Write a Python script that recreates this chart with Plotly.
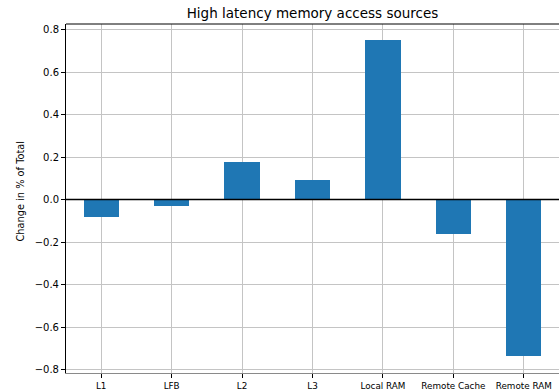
import plotly.graph_objects as go

# Change in share of high-latency memory accesses, by source
sources = ["L1", "LFB", "L2", "L3", "Local RAM", "Remote Cache", "Remote RAM"]
change_pct = [-0.081, -0.029, 0.176, 0.092, 0.750, -0.162, -0.735]
y_ticks = [-0.8, -0.6, -0.4, -0.2, 0.0, 0.2, 0.4, 0.6, 0.8]

FONT = "DejaVu Sans"
GRID = "#c4c4c4"

fig = go.Figure()
fig.add_trace(go.Bar(
    x=list(range(len(sources))),
    y=change_pct,
    width=0.5,
    marker=dict(color="#1f77b4", line=dict(width=0)),
))

# horizontal reference line at zero
fig.add_hline(y=0, line=dict(color="black", width=1.5))

# top frame line
fig.add_shape(type="line", xref="paper", yref="paper",
              x0=0, x1=1, y0=1, y1=1,
              line=dict(color="black", width=1))

# y-axis label placed as a rotated annotation
fig.add_annotation(
    text="Change in % of Total",
    xref="paper", yref="paper",
    x=-45 / 493, y=0.52,
    xanchor="center", yanchor="middle",
    textangle=-90, showarrow=False,
    font=dict(family=FONT, size=9.8, color="black"),
)

fig.update_layout(
    width=559, height=392,
    margin=dict(l=66, r=0, t=24, b=19),
    paper_bgcolor="white", plot_bgcolor="white",
    showlegend=False,
    bargap=0,
    font=dict(family=FONT, color="black"),
    title=dict(
        text="High latency memory access sources",
        font=dict(family=FONT, size=13.5, color="black"),
        x=(66 + 559) / 2 / 559, xanchor="center",
        y=1 - 13 / 392, yanchor="middle",
    ),
    xaxis=dict(
        tickmode="array",
        tickvals=list(range(len(sources))),
        ticktext=sources,
        range=[-0.5, 6.5],
        showgrid=True, gridcolor=GRID, gridwidth=1,
        ticks="outside", ticklen=4, tickcolor="black", tickwidth=1,
        tickfont=dict(family=FONT, size=8.8, color="black"),
        showline=True, linecolor="#8a8a8a", linewidth=1,
        zeroline=False,
    ),
    yaxis=dict(
        tickmode="array",
        tickvals=y_ticks,
        ticktext=[f"{v:.1f}".replace("-", "\u2212") for v in y_ticks],
        range=[-0.8165, 0.826],
        showgrid=True, gridcolor=GRID, gridwidth=1,
        ticks="outside", ticklen=4, tickcolor="black", tickwidth=1,
        tickfont=dict(family=FONT, size=10, color="black"),
        showline=True, linecolor="black", linewidth=1,
        zeroline=False,
    ),
)

fig.write_html("out.html")
